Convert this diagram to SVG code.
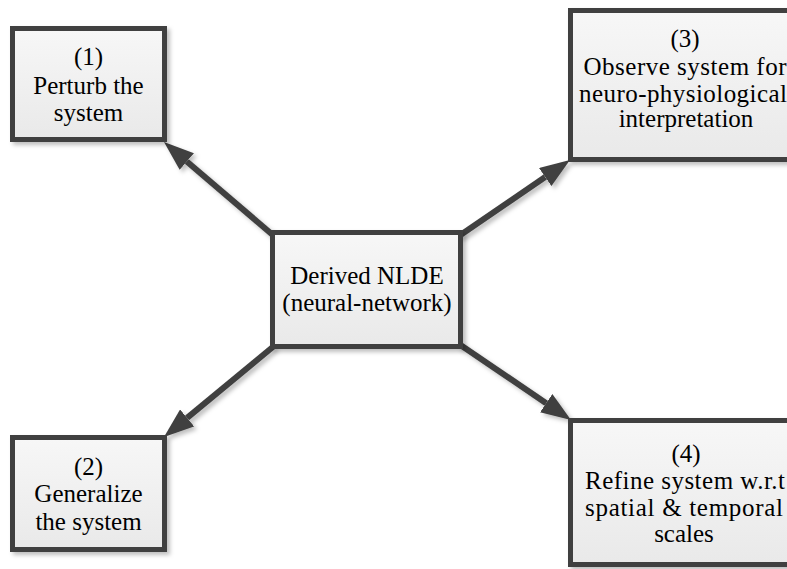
<svg xmlns="http://www.w3.org/2000/svg" width="787" height="569" viewBox="0 0 787 569">
  <defs>
    <linearGradient id="boxFill" x1="0" y1="0" x2="0" y2="1">
      <stop offset="0" stop-color="#f7f7f7"/>
      <stop offset="1" stop-color="#e9e9e9"/>
    </linearGradient>
    <filter id="shadow" x="-10%" y="-10%" width="125%" height="125%">
      <feDropShadow dx="3" dy="3" stdDeviation="2" flood-color="#000" flood-opacity="0.25"/>
    </filter>
    <marker id="head" viewBox="0 0 30 22" refX="0" refY="11" markerWidth="30" markerHeight="22" markerUnits="userSpaceOnUse" orient="auto">
      <path d="M0,0 L30,11 L0,22 z" fill="#404040"/>
    </marker>
  </defs>
  <style>
    .box { fill: url(#boxFill); stroke: #404040; stroke-width: 5; filter: url(#shadow); }
    .lbl { font-family: "Liberation Serif", "Times New Roman", serif; font-size: 25px; fill: #000; text-anchor: middle; }
    .edge { stroke: #404040; stroke-width: 6; fill: none; marker-end: url(#head); }
  </style>

  <!-- connectors from the central node to the four outer steps -->
  <g id="connectors" filter="url(#shadow)">
    <line class="edge" x1="274" y1="236" x2="186.8" y2="161.5"/>
    <line class="edge" x1="274" y1="346" x2="187.1" y2="417.9"/>
    <line class="edge" x1="459" y1="236" x2="545.2" y2="177"/>
    <line class="edge" x1="459" y1="344" x2="546.2" y2="403.2"/>
  </g>

  <g id="node-center">
    <rect class="box" x="272.5" y="232.5" width="188" height="114"/>
    <text class="lbl" x="367" y="284">Derived NLDE</text>
    <text class="lbl" x="367" y="311">(neural-network)</text>
  </g>

  <g id="node-1">
    <rect class="box" x="12.5" y="28.5" width="152" height="111"/>
    <text class="lbl" x="88.5" y="65">(1)</text>
    <text class="lbl" x="88.5" y="94">Perturb the</text>
    <text class="lbl" x="88.5" y="121">system</text>
  </g>

  <g id="node-2">
    <rect class="box" x="12.5" y="437.5" width="152" height="112"/>
    <text class="lbl" x="88.5" y="475">(2)</text>
    <text class="lbl" x="88.5" y="502">Generalize</text>
    <text class="lbl" x="88.5" y="530">the system</text>
  </g>

  <g id="node-3">
    <rect class="box" x="570.5" y="10.5" width="222" height="149"/>
    <text class="lbl" x="685" y="47">(3)</text>
    <text class="lbl" x="685" y="74.5" textLength="203" lengthAdjust="spacing">Observe system for</text>
    <text class="lbl" x="683" y="101.5" textLength="208" lengthAdjust="spacing">neuro-physiological</text>
    <text class="lbl" x="686" y="127">interpretation</text>
  </g>

  <g id="node-4">
    <rect class="box" x="570.5" y="420.5" width="222" height="144"/>
    <text class="lbl" x="686" y="462">(4)</text>
    <text class="lbl" x="685" y="489" textLength="200" lengthAdjust="spacing">Refine system w.r.t</text>
    <text class="lbl" x="684" y="516" textLength="198" lengthAdjust="spacing">spatial &amp; temporal</text>
    <text class="lbl" x="684" y="542">scales</text>
  </g>
</svg>
